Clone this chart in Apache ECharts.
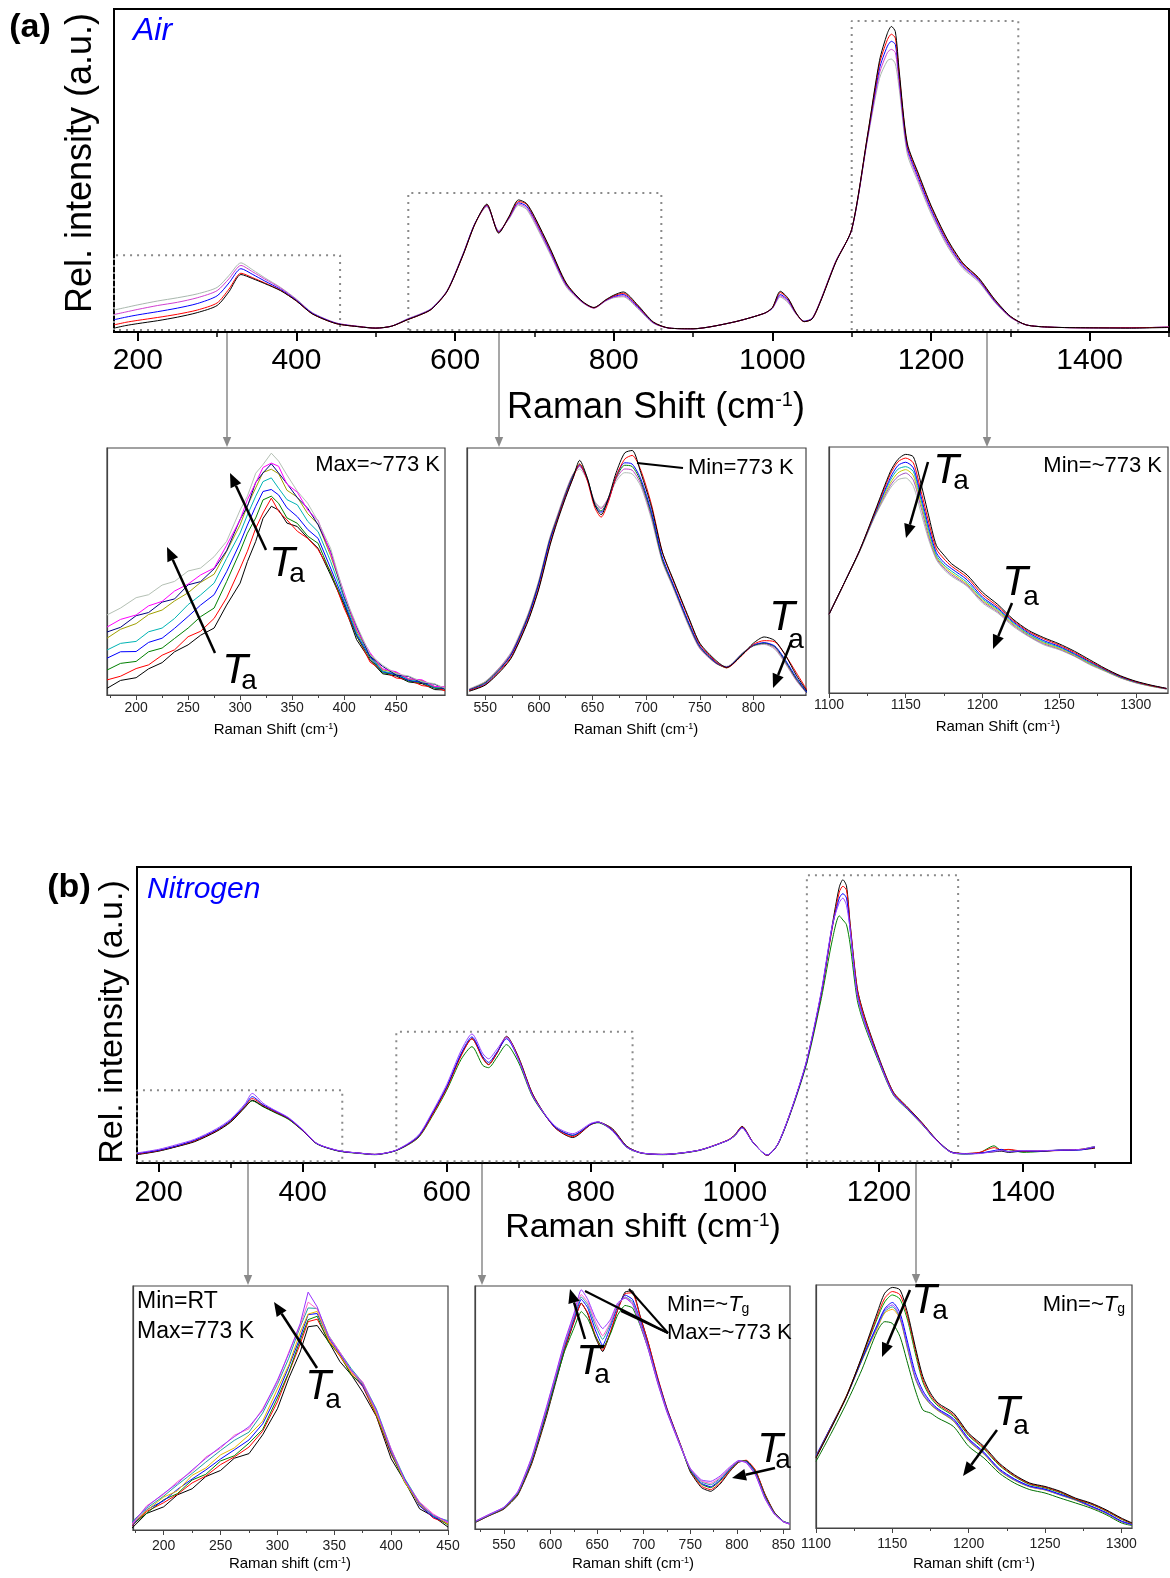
<!DOCTYPE html>
<html>
<head>
<meta charset="utf-8">
<script src="https://cdn.jsdelivr.net/npm/echarts@6/dist/echarts.min.js"></script>
<style>
html,body{margin:0;padding:0;background:#fff}
#main{width:1170px;height:1578px}
</style>
</head>
<body>
<div id="main"></div>
<script>
//==================== (a) Air : full spectrum ====================
var aX = [170,185,200,225,250,275,300,315,330,345,360,380,400,420,450,480,500,520,540,555,570,590,610,625,640,655,668,680,690,700,720,740,760,775,790,800,812,830,850,870,900,950,990,1000,1010,1020,1030,1040,1050,1060,1080,1100,1120,1135,1145,1150,1155,1160,1170,1185,1200,1220,1240,1260,1280,1300,1320,1350,1400,1450,1500];
var aBlack = [1.2,2.0,2.6,3.5,4.6,6.0,8.2,12.5,17.8,16.5,15.0,12.8,9.6,5.6,2.6,1.6,1.2,1.8,3.8,5.2,7.0,12.6,23.8,33.4,39.6,30.6,35.8,40.9,39.8,35.8,25.8,15.2,9.6,7.6,10.0,11.4,12.4,8.4,3.1,1.2,1.0,3.0,5.8,7.6,12.6,10.4,5.9,3.2,4.0,9.0,21.6,31.8,61.0,84.0,92.5,94.6,93.0,80.5,58.5,48.5,39.2,29.0,21.4,16.8,10.2,4.9,2.2,1.5,1.3,1.2,1.4];
var aRed = [2.2,3.0,3.6,4.5,5.5,6.8,9.0,13.3,18.2,16.8,15.2,12.9,9.6,5.6,2.6,1.6,1.2,1.8,3.8,5.2,7.0,12.6,23.8,33.4,39.4,30.8,35.6,40.4,39.6,35.4,25.5,15.0,9.5,7.5,9.9,11.2,12.0,8.2,3.0,1.2,1.0,3.0,5.8,7.5,12.2,10.2,5.8,3.2,4.0,9.1,21.7,31.8,60.8,83.0,90.5,92.2,91.0,79.5,58.0,48.0,38.8,28.6,21.1,16.6,10.0,4.8,2.2,1.5,1.3,1.3,1.5];
var aBlue = [3.8,4.6,5.3,6.3,7.4,8.8,11.2,15.2,19.6,17.8,15.8,13.2,9.8,5.8,2.7,1.6,1.2,1.8,3.9,5.3,7.1,12.7,24.0,33.6,39.2,31.0,35.4,40.0,39.0,35.0,25.0,14.7,9.4,7.5,9.8,11.0,11.6,7.9,2.9,1.2,1.0,3.0,5.8,7.4,11.6,9.8,5.7,3.3,4.1,9.2,21.8,31.7,60.4,81.5,88.5,90.0,89.0,78.2,57.2,47.2,38.0,28.0,20.6,16.2,9.7,4.7,2.2,1.5,1.3,1.3,1.5];
var aMag = [5.4,6.2,7.0,8.2,9.2,10.6,12.8,16.5,20.6,18.6,16.4,13.6,10.0,5.9,2.8,1.7,1.2,1.8,4.0,5.4,7.2,12.8,24.1,33.6,39.0,31.2,35.2,39.6,38.5,34.4,24.5,14.4,9.3,7.4,9.7,10.8,11.2,7.6,2.8,1.2,1.0,3.0,5.8,7.4,11.2,9.4,5.6,3.3,4.2,9.3,21.9,31.6,60.0,80.0,86.5,87.5,86.5,76.8,56.4,46.4,37.4,27.4,20.2,15.9,9.5,4.6,2.2,1.5,1.3,1.3,1.5];
var aGray = [6.8,7.6,8.4,9.6,10.6,11.8,13.8,17.5,21.4,19.2,16.8,13.8,10.2,6.0,2.8,1.7,1.2,1.8,4.1,5.5,7.3,12.9,24.2,33.6,38.8,31.4,35.0,39.2,38.0,33.8,24.0,14.0,9.2,7.4,9.6,10.6,10.9,7.3,2.7,1.2,1.0,3.0,5.8,7.3,10.8,9.0,5.5,3.4,4.3,9.4,22.0,31.6,59.6,78.5,84.0,84.5,83.0,75.0,55.2,45.6,36.6,26.8,19.7,15.5,9.3,4.5,2.2,1.5,1.3,1.3,1.5];

// (a) inset 1 : 170-500
var a1X = [172,185,200,212,225,237,250,262,275,287,300,307,315,322,330,337,345,355,365,375,387,400,412,425,437,450,462,475,487,497];
var a1Black = [2.7,5.9,7.0,10.6,13.1,17.5,20.3,24.2,27.1,36.4,45.3,54.0,62.2,71.5,76.4,74.9,69.6,68.2,63.5,59.4,48.6,36.4,22.4,14.1,8.6,7.7,5.3,4.6,2.2,2.0];
var a1Red = [6.1,7.6,10.7,12.2,16.1,18.3,23.6,25.8,31.0,39.3,51.3,58.2,67.5,73.7,79.7,74.4,70.9,66.3,63.4,58.9,49.9,35.2,24.2,13.3,9.8,6.9,6.2,3.8,3.2,1.7];
var a1Green = [10.1,12.8,13.6,17.5,19.0,22.9,27.1,31.7,35.2,45.9,58.2,65.5,71.7,79.0,80.5,77.6,71.7,69.5,64.3,61.4,49.4,37.1,23.7,14.8,9.0,8.2,5.6,5.0,2.7,2.6];
var a1Blue = [14.9,17.5,17.6,21.3,23.0,27.0,31.8,36.4,40.6,49.9,61.6,68.8,76.4,82.4,83.2,81.0,75.8,72.2,67.0,63.4,51.4,37.8,24.4,15.5,9.4,8.3,5.9,5.2,3.0,2.7];
var a1Cyan = [18.2,20.9,21.7,25.6,27.1,31.0,36.6,40.5,45.3,55.3,65.6,72.9,80.5,86.4,87.9,83.7,79.1,77.0,70.3,66.1,54.1,39.1,25.1,16.1,9.6,8.6,6.3,5.5,3.2,3.0];
var a1Olive = [23.0,26.6,28.9,32.6,34.4,38.1,41.4,45.6,48.9,58.1,68.9,76.6,83.9,90.1,91.4,89.6,82.9,80.1,73.4,69.1,56.4,40.6,25.9,16.6,10.2,9.1,6.5,5.9,3.4,3.2];
var a1Navy = [25.5,27.4,32.1,33.4,37.6,38.9,44.6,45.9,51.1,58.4,71.1,76.4,86.1,89.9,93.6,89.9,85.6,79.9,75.6,68.9,58.1,39.9,27.6,15.6,11.6,8.1,7.5,5.0,4.4,2.5];
var a1Mag = [27.5,30.6,32.4,36.1,37.9,42.1,44.9,48.6,51.4,60.6,70.9,79.1,85.9,92.1,93.9,92.6,85.4,82.1,74.9,70.6,57.4,41.4,26.6,17.1,10.6,9.4,6.6,6.1,3.5,3.3];
var a1Gray = [32.4,35.2,39.4,40.6,44.5,46.0,50.2,51.4,56.0,62.2,74.9,80.5,89.8,93.3,97.9,94.7,89.1,82.5,77.6,70.3,59.4,40.6,28.3,16.3,12.1,8.6,7.7,5.3,4.6,2.7];

// (a) inset 2 : 535-850
var a2X = [535,550,565,575,590,600,610,617,625,632,638,645,652,658,665,672,680,687,695,705,715,725,740,750,765,775,790,800,810,820,830,840,850];
var a2Black = [1.5,4,10,15.5,30,43,60,70,80,88,95,88,77,73,80,90,98,99,90,76,58,47,31,21,14,11.2,16.5,21,23.5,22,16,8,1.5];
var a2Red = [1.8,4.2,10.5,16,30.5,43.5,60.5,70.5,80.5,88,93.5,87,76,72,78.5,88.5,95.5,97,91,77,58,46.5,30.5,20.5,13.5,11,16.3,20.5,22,21.5,16,9,2];
var a2Blue = [2,4.6,11,16.8,31.5,45,62,71,81,88.5,93,87.5,77,74,79,88.5,94,93.5,87.5,74,56,45,29,19.8,13.2,11.2,16.6,20.2,21.2,19.8,14,7,1];
var a2Green = [2.1,5,11.3,17,32,45.5,62.5,71.5,81.5,89,93.5,88,77.5,74.5,79.5,88,93,92.5,86.5,73,55,44.5,28.5,19.5,13,11,16.8,20,21,19.5,13.5,6.5,0.8];
var a2Mag = [2.3,5.2,11.8,17.5,32.5,46,63,72,82,89.5,92.5,87.5,78,75.5,80,87.5,91.5,91,85.5,72,54.5,44,28,19,12.8,11.3,17,20,20.8,19,13,6,0.6];
var a2Gray = [2.5,5.5,12,18,33,46.5,63.5,72.5,82.5,89.5,91.5,87,78.5,76,80,86.5,90,89.5,84.5,71,54,43.5,27.5,18.8,12.8,11.6,17.2,19.8,20.5,18.5,12.5,5.8,0.5];

// (a) inset 3 : 1100-1320
var a3X = [1100,1110,1120,1130,1140,1145,1150,1155,1160,1165,1170,1175,1180,1190,1200,1210,1220,1230,1240,1250,1260,1270,1280,1290,1300,1310,1320];
var a3Black = [32,44.8,58,74,90,95,97,96,85,72,60,56,52.5,48,41,36,30,25.5,22.5,20,17,13.5,10,7,4.8,3.2,1.9];
var a3Red = [32,44.8,58,73.5,89,94,95.5,93.5,82,69.5,58.5,54.5,51.5,47,40,35.2,29.5,25,22,19.5,16.5,13,9.7,6.8,4.6,3,1.8];
var a3Blue = [32,44.8,58,73,87.5,92.5,93.8,91.5,80,67.5,57,53,50.5,46,39,34.5,29,24.5,21.3,19,16,12.7,9.5,6.6,4.5,3,1.8];
var a3Cyan = [32,44.8,57.8,72.8,86.5,91,92,90,78.5,66,56,52,49.5,45,38.3,34,28.5,24,20.8,18.6,15.7,12.3,9.3,6.5,4.4,2.9,1.7];
var a3Yellow = [31.9,44.7,57.7,72.5,85.3,89.5,90.8,88.3,77,64.7,55.3,51.3,48.7,44.3,37.7,33.5,28,23.7,20.4,18.2,15.4,12,9.1,6.3,4.3,2.8,1.7];
var a3Purple = [31.8,44.7,57.6,72.2,84.3,88,89.4,86.5,75.5,63.5,54.8,50.7,48,43.8,37.2,33,27.6,23.3,20,17.9,15.1,11.8,9,6.2,4.2,2.8,1.6];
var a3Gray = [31.8,44.7,57.6,71.8,83.3,86.7,87.4,84,73.2,62.3,54.2,50.1,47.4,43.4,36.6,32.5,27.1,23,19.6,17.6,14.9,11.5,8.8,6.1,4.1,2.7,1.6];

//==================== (b) Nitrogen : full spectrum ====================
var bX = [170,200,225,250,280,300,320,330,345,360,380,400,420,450,480,500,530,560,580,600,620,635,650,658,670,683,700,720,750,775,800,810,830,850,870,900,950,990,1000,1010,1025,1045,1060,1080,1100,1120,1135,1145,1150,1155,1160,1170,1180,1200,1220,1240,1260,1280,1300,1320,1340,1360,1370,1380,1400,1420,1450,1480,1500];
var bBlack = [2.8,4.0,5.5,7.2,10.6,13.8,18.8,21.2,19.2,17.4,15.0,11.0,6.5,4.1,3.3,2.9,4.3,8.8,16.5,25.5,36.5,42.0,35.5,33.3,37.2,42.8,35.6,23.0,12.0,8.6,13.0,13.8,11.6,5.7,3.4,2.9,4.3,7.7,9.5,12.4,7.1,2.6,6.5,19.0,34.6,57.3,80.0,93.2,95.7,93.6,81.0,59.0,49.6,35.6,24.0,18.8,13.6,7.9,3.8,3.2,3.4,3.8,4.0,3.6,4.0,3.9,4.3,4.5,5.0];
var bRed = [3.0,4.2,5.7,7.5,10.9,14.2,19.2,21.8,19.5,17.6,15.1,11.0,6.5,4.1,3.3,2.9,4.3,8.6,16.2,25.2,36.2,42.0,35.3,33.2,37.2,42.6,35.3,22.8,12.0,8.9,13.0,13.8,11.3,5.5,3.4,2.9,4.3,7.7,9.4,12.2,7.1,2.6,6.5,19.0,34.6,57.2,79.0,91.5,93.5,92.2,80.5,58.5,49.0,35.2,23.8,18.6,13.4,7.8,3.7,3.2,3.6,5.2,4.4,4.6,4.0,4.1,4.2,4.6,5.2];
var bGreen = [3.0,4.1,5.6,7.4,10.8,14.0,19.0,21.0,19.0,17.2,14.8,10.9,6.4,4.0,3.2,2.8,4.2,8.4,15.8,24.6,35.0,39.3,33.0,32.2,35.8,40.0,33.8,22.0,12.3,9.3,13.0,13.6,11.0,5.3,3.3,2.8,4.2,7.6,9.2,12.0,7.0,2.6,6.4,18.6,33.8,55.5,75.0,83.5,82.1,80.5,74.0,55.0,46.5,34.0,23.0,18.0,13.0,7.6,3.6,3.0,3.5,5.8,4.2,4.5,3.6,3.8,4.4,4.6,5.6];
var bBlue = [3.2,4.3,5.8,7.7,11.1,14.4,19.5,22.4,19.7,17.8,15.2,11.1,6.5,4.1,3.3,2.9,4.3,8.8,16.8,25.8,37.0,42.6,36.0,34.0,37.6,42.0,34.9,22.5,12.2,9.4,13.1,13.8,11.1,5.4,3.4,2.9,4.3,7.6,9.3,12.0,7.0,2.7,6.5,19.0,34.6,57.5,79.5,89.5,91.0,89.5,79.0,57.0,48.0,34.8,23.4,18.4,13.2,7.7,3.7,3.1,3.3,4.2,4.6,3.8,4.1,4.0,4.3,4.4,5.4];
var bPurple = [3.4,4.6,6.2,8.0,11.5,14.8,20.0,23.5,20.2,18.0,15.4,11.3,6.6,4.2,3.3,2.9,4.4,9.2,17.2,26.5,38.0,43.6,37.0,35.2,38.5,42.5,34.8,22.3,12.6,9.9,13.4,13.9,10.8,5.3,3.4,2.9,4.3,7.6,9.2,11.8,7.0,2.7,6.6,19.2,35.0,58.0,80.0,88.0,89.5,87.0,79.0,56.5,47.5,34.5,23.2,18.2,13.1,7.6,3.6,3.1,3.2,3.9,4.2,3.9,4.2,4.1,4.4,4.6,5.6];

// (b) inset 1 : 170-450
var b1X = [172,185,200,212,225,237,250,262,275,287,300,310,320,327,335,345,355,365,375,387,400,412,425,437,450];
var b1Black = [0.7,6.8,9.5,14.4,16.9,21.9,24.4,29.4,31.3,39.0,49.7,62.2,72.9,83.3,83.8,77.2,69.0,63.6,56.5,46.6,29.2,19.9,8.7,5.6,1.2];
var b1Red = [1.5,7.6,11.2,14.6,19.3,22.1,26.8,29.9,34.0,40.5,52.5,64.4,76.2,85.4,86.4,77.6,71.2,64.0,58.8,46.8,31.0,20.2,10.2,4.9,2.6];
var b1Green = [2.0,6.9,12.4,14.9,20.5,22.8,28.3,30.4,35.6,41.2,54.1,64.6,77.8,86.2,87.6,76.8,71.9,63.4,59.6,47.2,31.5,19.4,10.6,5.8,2.1];
var b1Blue = [1.8,8.3,12.0,16.6,20.9,24.6,29.1,32.8,36.9,43.5,55.6,66.9,79.0,88.3,88.7,78.6,72.0,65.2,59.0,48.4,31.9,20.8,9.9,5.3,2.9];
var b1Yellow = [2.4,8.0,13.5,16.0,22.4,25.4,30.8,33.6,38.9,44.6,57.8,67.6,81.0,88.5,89.6,78.2,71.5,64.6,59.8,47.6,32.4,19.6,10.4,6.2,2.4];
var b1Teal = [3.4,8.9,13.9,18.5,23.2,27.8,32.6,36.7,40.1,47.9,59.7,70.4,83.3,91.0,90.8,79.7,72.8,66.1,60.4,49.6,33.1,21.1,11.2,5.6,3.8];
var b1Pink = [2.1,9.9,14.6,19.8,24.0,29.9,33.5,38.8,41.5,49.7,60.6,72.9,83.8,93.4,90.5,79.5,72.9,65.0,60.7,48.5,33.3,20.1,11.5,6.6,2.9];
var b1Purple = [2.7,9.5,15.0,19.1,24.6,29.3,34.1,38.2,42.3,49.1,61.4,72.3,84.6,97.5,91.4,79.1,72.3,65.5,60.0,49.1,32.7,20.5,10.9,6.1,3.4];

// (b) inset 2 : 520-857
var b2X = [520,535,550,565,580,595,605,615,625,633,640,648,656,664,672,680,688,696,705,715,725,740,750,762,772,782,792,802,810,820,830,840,850,857];
var b2Black = [2.8,5.6,8.2,14.0,27.0,45.5,59.5,73.5,85.0,93.0,88.5,79.0,73.0,80.5,90.0,97.5,98.0,88.0,76.5,62.0,49.5,34.0,23.5,17.0,15.5,18.5,23.5,27.5,28.0,24.0,14.5,7.0,3.0,2.0];
var b2Red = [2.9,5.7,8.4,14.3,27.6,46.4,60.4,74.2,85.2,92.8,89.0,79.8,73.5,80.8,90.2,96.8,97.2,87.6,76.6,62.4,49.6,34.3,23.9,17.6,16.2,19.0,23.8,27.6,28.3,24.2,14.3,7.0,3.1,2.1];
var b2Green = [3.0,5.8,8.5,14.5,28.0,46.8,60.2,73.0,82.5,89.5,86.5,79.5,74.5,80.0,88.0,92.0,91.0,84.0,74.0,60.5,48.5,33.6,24.0,18.4,17.0,19.8,24.2,27.8,28.0,23.4,13.8,6.8,3.2,2.2];
var b2Blue = [3.1,5.9,8.7,14.9,28.6,47.8,61.5,75.2,86.2,94.5,91.0,82.0,75.5,82.8,91.5,96.3,94.5,86.2,75.2,61.5,49.2,34.0,24.4,18.8,17.4,20.2,24.4,27.8,27.8,23.0,13.3,6.6,3.1,2.2];
var b2Teal = [3.2,6.0,8.8,15.1,29.0,48.4,62.0,75.8,87.0,95.5,92.2,84.0,78.0,84.0,92.0,95.5,93.5,85.4,74.6,60.8,48.6,33.8,24.6,19.4,18.2,20.8,24.8,28.0,27.6,22.6,13.0,6.4,3.0,2.1];
var b2Mag = [3.3,6.1,8.9,15.3,29.4,48.8,62.5,76.4,87.8,96.5,93.2,85.5,79.5,84.8,92.4,95.2,93.0,85.0,74.2,60.4,48.3,33.6,24.8,19.8,18.8,21.2,25.0,28.0,27.4,22.4,12.8,6.3,3.0,2.0];
var b2Purple = [3.4,6.2,9.0,15.5,29.8,49.3,63.0,77.0,88.5,98.5,94.5,87.0,82.5,86.0,93.0,95.0,92.5,84.6,73.8,60.0,48.0,33.4,25.0,20.2,19.6,21.8,25.4,28.2,27.2,22.2,12.6,6.2,2.9,2.0];

// (b) inset 3 : 1100-1307
var b3X = [1100,1110,1120,1130,1140,1145,1150,1155,1160,1165,1170,1175,1180,1190,1200,1210,1220,1230,1240,1250,1260,1270,1280,1290,1300,1307];
var b3Black = [28.8,41.1,54.1,70.5,88.4,96.6,99,98,88.4,74.7,62.3,55.5,51.4,47.3,39,33.6,26.7,21.9,18.5,17.1,15.1,12.3,10.3,7.5,4.1,2.1];
var b3Red = [29.0,41.4,54.4,70.2,87.0,94.5,97.3,96.0,87.0,73.5,61.0,54.6,50.8,46.6,38.5,33.0,26.2,21.5,18.2,16.8,14.8,12.0,10.0,7.2,3.8,1.9];
var b3Green = [29.2,41.6,54.5,70.0,86.0,93.0,95.9,94.2,85.5,72.0,60.0,53.8,50.2,46.0,38.0,32.5,25.8,21.2,17.9,16.5,14.5,11.8,9.8,7.0,3.6,1.8];
var b3Blue = [29.5,41.8,54.1,69.2,83.5,90.2,92.8,88.5,76.5,64.0,56.5,52.0,49.0,45.0,36.8,31.2,24.4,20.2,17.3,16.0,13.9,11.8,9.1,6.4,2.9,1.5];
var b3Purple = [29.8,42.0,54.3,69.5,83.0,89.7,91.8,87.0,74.7,62.3,55.5,51.4,48.6,44.5,36.3,30.8,24.0,19.9,17.1,15.8,13.7,11.6,8.9,6.2,2.7,1.4];
var b3Orange = [29.4,41.7,54.0,68.8,82.0,88.5,90.0,86.0,73.5,61.5,54.8,50.8,48.2,44.0,35.8,30.4,23.6,19.6,16.9,15.6,13.5,11.4,8.7,6.0,2.6,1.3];
var b3Teal = [29.6,41.9,54.2,69.0,82.6,89.0,91.0,86.5,74.0,61.8,55.0,51.0,48.4,44.2,36.0,30.6,23.8,19.7,17.0,15.7,13.6,11.5,8.8,6.1,2.6,1.3];
var b3DkGreen = [27.4,39,51.4,65.1,80.8,84.9,84.2,78.8,67.8,56.8,48.6,47.3,45.2,41.8,33.6,28.8,22.6,18.5,15.8,14.4,12.3,10.3,8.2,5.5,2.1,1.0];

// zoom windows drawn on the full spectra [x0, x1, top]
var boxesA = [[170,455,23.8],[541,860,43],[1100,1310,96.3]];
var boxesB = [[170,455,24.6],[530,858,44.3],[1100,1310,97.2]];

// tick labels
var ticksMain = [200,400,600,800,1000,1200,1400];
var minorMain = [300,500,700,900,1100,1300,1500];
var ticksA1 = [200,250,300,350,400,450], minorA1 = [175,225,275,325,375,425,475];
var ticksA2 = [550,600,650,700,750,800], minorA2 = [575,625,675,725,775,825];
var ticksA3 = [1100,1150,1200,1250,1300], minorA3 = [1125,1175,1225,1275];
var ticksB1 = [200,250,300,350,400,450], minorB1 = [175,225,275,325,375,425];
var ticksB2 = [550,600,650,700,750,800,850], minorB2 = [525,575,625,675,725,775,825];
var ticksB3 = [1100,1150,1200,1250,1300], minorB3 = [1125,1175,1225,1275];

var F = '"Liberation Sans", Arial, Helvetica, sans-serif';
var myChart = echarts.init(document.getElementById('main'), null, {renderer: 'canvas'});

// grid: [left, top, width, height, main?]
var grids = [
  [114, 9, 1055, 323, 1],
  [107, 448, 338, 247, 0],
  [467, 448, 339, 247, 0],
  [829, 447, 339, 246, 0],
  [137, 867, 994, 296, 1],
  [133, 1286, 315, 244, 0],
  [475, 1286, 315, 243, 0],
  [816, 1285, 316, 243, 0]
];
// x range, labels, minor ticks, label margin
var xs = [
  [170, 1500, ticksMain, minorMain, 14],
  [172, 497, ticksA1, minorA1, 6],
  [533, 849, ticksA2, minorA2, 6],
  [1100, 1321, ticksA3, minorA3, 5],
  [170, 1550, ticksMain, minorMain, 15],
  [173, 450, ticksB1, minorB1, 9],
  [519, 857, ticksB2, minorB2, 9],
  [1100, 1307, ticksB3, minorB3, 9]
];
// smooth the clean panels, keep the noisy insets raw
var smoothOf = [0.25, 0, 0.25, 0.25, 0.25, 0, 0.15, 0.25];

var gridOpt = [], xAxisOpt = [], yAxisOpt = [];
grids.forEach(function (g, i) {
  var main = g[4] === 1;
  var col = main ? '#000' : '#444';
  gridOpt.push({left: g[0], top: g[1], width: g[2], height: g[3], show: true,
    borderColor: col, borderWidth: main ? 2 : 1.2, containLabel: false});
  var x = xs[i];
  xAxisOpt.push({type: 'value', gridIndex: i, min: x[0], max: x[1],
    axisLine: {show: true, lineStyle: {color: col, width: main ? 2 : 1.2}},
    axisTick: {show: true, customValues: x[2], length: main ? 9 : 5, lineStyle: {color: col, width: main ? 2 : 1}},
    axisLabel: {show: true, customValues: x[2], margin: x[4], color: main ? '#000' : '#222',
      fontSize: main ? (i === 0 ? 30 : 29) : 14, fontFamily: F,
      formatter: function (v) { return String(v); }},
    splitLine: {show: false}});
  yAxisOpt.push({type: 'value', gridIndex: i, min: 0, max: 100,
    axisLine: {show: true, lineStyle: {color: col, width: main ? 2 : 1.2}},
    axisTick: {show: false}, axisLabel: {show: false}, splitLine: {show: false}});
});
// minor ticks on a second x axis of every grid
grids.forEach(function (g, i) {
  var main = g[4] === 1;
  xAxisOpt.push({type: 'value', gridIndex: i, min: xs[i][0], max: xs[i][1], position: 'bottom',
    axisLine: {show: false},
    axisTick: {show: true, customValues: xs[i][3], length: main ? 5 : 3,
      lineStyle: {color: main ? '#000' : '#444', width: main ? 1.5 : 1}},
    axisLabel: {show: false}, splitLine: {show: false}});
});

function curves(idx, xv, ys, colors) {
  return ys.map(function (y, i) {
    return {type: 'line', xAxisIndex: idx, yAxisIndex: idx, symbol: 'none', silent: true,
      clip: true, animation: false, smooth: smoothOf[idx],
      lineStyle: {width: 1, color: colors[i]},
      data: xv.map(function (v, j) { return [v, y[j]]; })};
  });
}
function box(idx, b) {
  return {type: 'line', xAxisIndex: idx, yAxisIndex: idx, symbol: 'none', silent: true,
    animation: false, clip: false, z: 1,
    lineStyle: {color: '#8a8a8a', width: 2, type: [2, 5]},
    data: [[b[0], 0.6], [b[0], b[2]], [b[1], b[2]], [b[1], 0.6], [b[0], 0.6]]};
}

var series = [];
series = series.concat(
  curves(0, aX, [aGray, aMag, aBlue, aRed, aBlack], ['#a9b8ae', '#d040d0', '#0000ff', '#ff0000', '#000000']),
  curves(1, a1X, [a1Black, a1Red, a1Green, a1Blue, a1Cyan, a1Olive, a1Navy, a1Mag, a1Gray],
    ['#000000', '#ff0000', '#008000', '#0000ff', '#00b4b4', '#a0a000', '#000080', '#ff00ff', '#b4c0b4']),
  curves(2, a2X, [a2Gray, a2Mag, a2Green, a2Blue, a2Red, a2Black],
    ['#b0bcb4', '#c040c0', '#008000', '#0000ff', '#ff0000', '#000000']),
  curves(3, a3X, [a3Gray, a3Purple, a3Yellow, a3Cyan, a3Blue, a3Red, a3Black],
    ['#b0bcb4', '#a050c0', '#c8c800', '#00b4b4', '#0000ff', '#ff0000', '#000000']),
  curves(4, bX, [bGreen, bBlack, bRed, bBlue, bPurple], ['#008000', '#000000', '#ff0000', '#0000ff', '#9a40ff']),
  curves(5, b1X, [b1Black, b1Red, b1Green, b1Blue, b1Yellow, b1Teal, b1Pink, b1Purple],
    ['#000000', '#ff0000', '#008000', '#0000ff', '#e6b800', '#20a0a0', '#ff66cc', '#9933ff']),
  curves(6, b2X, [b2Black, b2Red, b2Green, b2Blue, b2Teal, b2Mag, b2Purple],
    ['#000000', '#ff0000', '#008000', '#0000ff', '#20a0a0', '#ff55cc', '#9933ff']),
  curves(7, b3X, [b3DkGreen, b3Orange, b3Teal, b3Purple, b3Blue, b3Green, b3Red, b3Black],
    ['#007000', '#ffa500', '#20a0a0', '#9933ff', '#0000ff', '#00a000', '#ff0000', '#000000'])
);
boxesA.forEach(function (b) { series.push(box(0, b)); });
boxesB.forEach(function (b) { series.push(box(4, b)); });

//==================== annotations ====================
function txt(x, y, s, size, opt) {
  opt = opt || {};
  return {type: 'text', x: x, y: y, rotation: opt.rot || 0, z: 100,
    style: {text: s, fontSize: size, fontFamily: F, fill: opt.color || '#000',
      fontStyle: opt.italic ? 'italic' : 'normal', fontWeight: opt.bold ? 'bold' : 'normal',
      align: opt.align || 'center', verticalAlign: 'middle', rich: opt.rich}};
}
function arrow(x1, y1, x2, y2, color, w, hl) {
  var a = Math.atan2(y2 - y1, x2 - x1), hw = hl * 0.42;
  var bx = x2 - hl * Math.cos(a), by = y2 - hl * Math.sin(a);
  return [
    {type: 'line', z: 100, shape: {x1: x1, y1: y1, x2: bx, y2: by}, style: {stroke: color, lineWidth: w}},
    {type: 'polygon', z: 100, shape: {points: [[x2, y2], [bx + hw * Math.sin(a), by - hw * Math.cos(a)],
      [bx - hw * Math.sin(a), by + hw * Math.cos(a)]]}, style: {fill: color}}
  ];
}
function seg(x1, y1, x2, y2) {
  return {type: 'line', z: 100, shape: {x1: x1, y1: y1, x2: x2, y2: y2}, style: {stroke: '#000', lineWidth: 2}};
}
function ta(tx, ty, ax, ay) {
  return [txt(tx, ty, 'T', 42, {italic: true}), txt(ax, ay, 'a', 28)];
}
var supRich = function (fs) { return {s: {fontSize: fs, fontFamily: F, verticalAlign: 'top'}}; };
var tgRich = {t: {fontSize: 22, fontFamily: F, fontStyle: 'italic', verticalAlign: 'bottom'},
  g: {fontSize: 14, fontFamily: F, verticalAlign: 'bottom'}};

var g = [];
g.push(txt(30, 28, '(a)', 34, {bold: true}));
g.push(txt(133, 31, 'Air', 32, {italic: true, color: '#0000ff', align: 'left'}));
g.push(txt(81, 163, 'Rel. intensity (a.u.)', 36, {rot: Math.PI / 2}));
g.push(txt(656, 408, 'Raman Shift (cm{s|-1})', 36, {rich: supRich(20)}));
g.push(txt(69, 888, '(b)', 34, {bold: true}));
g.push(txt(147, 890, 'Nitrogen', 30, {italic: true, color: '#0000ff', align: 'left'}));
g.push(txt(113, 1022, 'Rel. intensity (a.u.)', 34, {rot: Math.PI / 2}));
g.push(txt(643, 1228, 'Raman shift (cm{s|-1})', 34, {rich: supRich(19)}));

g.push(txt(276, 730, 'Raman Shift (cm{s|-1})', 15, {rich: supRich(9)}));
g.push(txt(636, 730, 'Raman Shift (cm{s|-1})', 15, {rich: supRich(9)}));
g.push(txt(998, 727, 'Raman Shift (cm{s|-1})', 15, {rich: supRich(9)}));
g.push(txt(290, 1564, 'Raman shift (cm{s|-1})', 15, {rich: supRich(9)}));
g.push(txt(633, 1564, 'Raman shift (cm{s|-1})', 15, {rich: supRich(9)}));
g.push(txt(974, 1564, 'Raman shift (cm{s|-1})', 15, {rich: supRich(9)}));

g.push(txt(440, 465, 'Max=~773 K', 22, {align: 'right'}));
g.push(txt(688, 468, 'Min=773 K', 22, {align: 'left'}));
g.push(seg(637, 463, 683, 468));
g.push(txt(1162, 466, 'Min=~773 K', 22, {align: 'right'}));
g.push(txt(137, 1302, 'Min=RT', 23, {align: 'left'}));
g.push(txt(137, 1332, 'Max=773 K', 23, {align: 'left'}));
g.push(txt(667, 1305, 'Min=~{t|T}{g|g}', 22, {align: 'left', rich: tgRich}));
g.push(txt(667, 1333, 'Max=~773 K', 22, {align: 'left'}));
g.push(seg(668, 1333, 585, 1291), seg(668, 1333, 629, 1289), seg(668, 1333, 621, 1311));
g.push(txt(1125, 1305, 'Min=~{t|T}{g|g}', 22, {align: 'right', rich: tgRich}));

g = g.concat(ta(235, 671, 249, 681), ta(282, 564, 297, 574), ta(782, 618, 796, 640),
  ta(946, 471, 961, 481), ta(1015, 583, 1031, 597), ta(318, 1387, 333, 1400),
  ta(589, 1362, 602, 1375), ta(770, 1450, 783, 1460), ta(924, 1301, 940, 1311), ta(1007, 1413, 1021, 1426));

[[215, 653, 167, 547], [266, 550, 230, 473], [792, 640, 773, 688], [928, 462, 906, 538],
 [1012, 603, 993, 649], [317, 1368, 274, 1302], [585, 1339, 570, 1289], [775, 1468, 732, 1478],
 [910, 1290, 882, 1357], [997, 1430, 963, 1476]].forEach(function (p) {
  g = g.concat(arrow(p[0], p[1], p[2], p[3], '#000', 2.5, 14));
});
// connectors from the boxes down to the insets
[[227, 333, 447], [499, 333, 447], [987, 333, 447], [248, 1164, 1285], [482, 1164, 1285], [916, 1164, 1284]].forEach(function (p) {
  g = g.concat(arrow(p[0], p[1], p[0], p[2], '#8a8a8a', 1.5, 10));
});

var option = {
  backgroundColor: '#fff',
  animation: false,
  grid: gridOpt,
  xAxis: xAxisOpt,
  yAxis: yAxisOpt,
  series: series,
  graphic: {elements: g}
};
myChart.setOption(option);
</script>
</body>
</html>
